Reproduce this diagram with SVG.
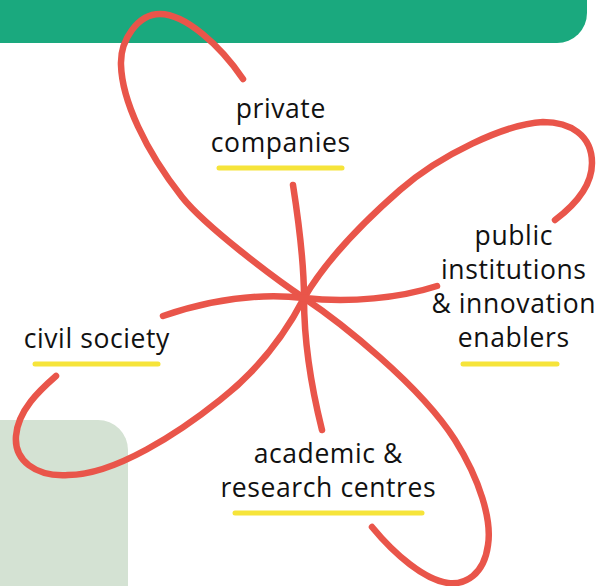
<svg xmlns="http://www.w3.org/2000/svg" width="604" height="586" viewBox="0 0 604 586">
  <style>
    .curve { fill: none; stroke: #e9554a; stroke-width: 6.5; stroke-linecap: round; stroke-linejoin: round; }
    .label { font-family: "Open Sans", "Liberation Sans", sans-serif; font-size: 26.5px; font-weight: 400; letter-spacing: 0.6px; fill: #111111; text-anchor: middle; }
    .uline { stroke: #f6e43a; stroke-width: 5; stroke-linecap: round; }
  </style>
  <rect id="top-band" x="-40" y="-40" width="627" height="83" rx="30" fill="#1aa97e"/>
  <rect id="side-panel" x="-40" y="420" width="168" height="220" rx="30" fill="#d4e2d3"/>
  <g id="connectors">
    <path class="curve" d="M243,79 C 220,45 185,14 160,14 C 138,14 120,40 121,65 C 122,100 145,150 182,197 C 205,226 274,278 304,298 C 340,322 420,385 455,440 C 480,480 492,520 488,545 C 484,575 465,585 448,583 C 425,580 395,555 372,527"/>
    <path class="curve" d="M555,220 C 575,205 592,185 592,163 C 592,135 570,122 543,122 C 505,124 440,155 400,190 C 360,225 325,262 304,298 C 290,325 265,365 220,400 C 180,432 115,475 68,475 C 35,477 14,460 16,436 C 18,410 40,390 56,376"/>
    <path class="curve" d="M293,185 C 300,230 304,270 304,298 C 304,345 312,390 322,430"/>
    <path class="curve" d="M163,316 C 210,300 260,293 304,298 C 350,303 400,298 437,286"/>
  </g>
  <g id="private-companies">
    <text class="label" x="280.8" y="118">private</text>
    <text class="label" x="280.8" y="152">companies</text>
    <line class="uline" x1="219" y1="168" x2="342" y2="168"/>
  </g>
  <g id="public-institutions">
    <text class="label" x="513.8" y="245">public</text>
    <text class="label" x="513.8" y="279">institutions</text>
    <text class="label" x="513.8" y="313">&amp; innovation</text>
    <text class="label" x="513.8" y="347">enablers</text>
    <line class="uline" x1="463" y1="364" x2="557" y2="364"/>
  </g>
  <g id="civil-society">
    <text class="label" x="96.8" y="348">civil society</text>
    <line class="uline" x1="35" y1="364" x2="158" y2="364"/>
  </g>
  <g id="academic-research">
    <text class="label" x="328.3" y="463">academic &amp;</text>
    <text class="label" x="328.3" y="497">research centres</text>
    <line class="uline" x1="235" y1="513" x2="422" y2="513"/>
  </g>
</svg>
